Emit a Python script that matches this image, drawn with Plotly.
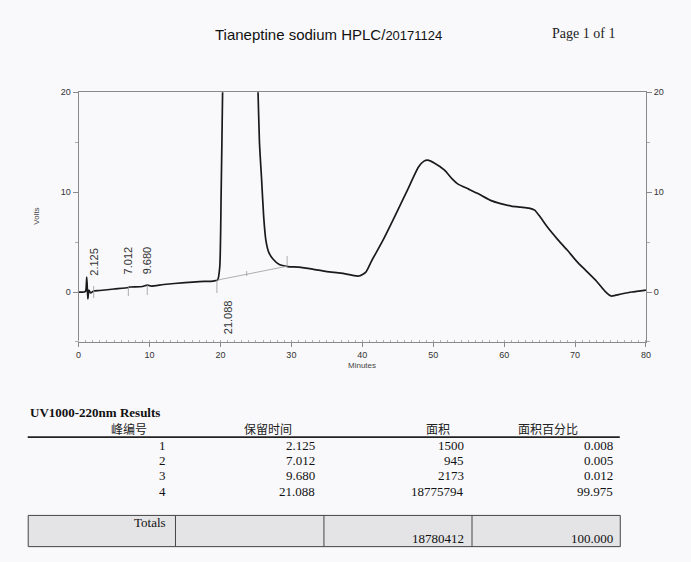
import plotly.graph_objects as go

W, H = 691, 562

# ---------------- data ----------------
t_min = [0, 0.8, 1.0, 1.15, 1.3, 1.45, 1.7, 2.0, 2.125, 3, 5, 7, 7.2, 9, 9.68, 10.2, 12, 15, 17, 19,
         19.6, 19.9, 20.1, 20.3, 20.6, 22.5, 24.5, 25.3, 25.5, 25.8, 26.1, 26.4, 26.8, 27.4, 28.3,
         29.5, 31, 33, 35, 37, 39.5, 40.5, 41.3, 43, 44.6, 46.5, 47.9, 48.7, 49.2, 50.2, 51.6, 52.7,
         53.5, 55, 56.3, 58, 59.5, 61, 62.3, 63.5, 64.3, 65, 66.1, 67.5, 68.9, 70.2, 71.6, 73, 74.2,
         75.1, 76.5, 78, 80]
volts = [0.0, 0.0, 0.1, 1.5, -0.7, 0.2, -0.1, 0.05, 0.1, 0.15, 0.3, 0.45, 0.5, 0.55, 0.7, 0.6, 0.75,
         0.95, 1.05, 1.1, 1.2, 2.5, 10, 20, 40, 80, 40, 20, 15, 11.3, 7.5, 5.2, 4.0, 3.3, 2.75,
         2.55, 2.5, 2.3, 2.05, 1.9, 1.6, 2.0, 3.1, 5.3, 7.6, 10.4, 12.5, 13.1, 13.2, 12.9, 12.2, 11.3,
         10.8, 10.3, 9.85, 9.2, 8.85, 8.6, 8.5, 8.4, 8.2, 7.6, 6.5, 5.3, 4.2, 3.1, 2.1, 1.1, 0.1,
         -0.4, -0.2, 0.0, 0.2]

# integration baseline of main peak
base_t = [19.6, 29.5]
base_v = [1.2, 2.6]

# peak labels (retention times) and label anchor heights
peak_labels = ["2.125", "7.012", "9.680", "21.088"]
peak_times = [2.125, 7.012, 9.680, 21.088]
label_y = [1.4, 1.6, 1.6, -0.6]
label_below = [False, False, False, True]

# event tick marks (time, low, high)
tick_t = [2.125, 7.012, 9.680, 19.5, 23.7, 29.4]
tick_lo = [-0.6, -0.4, -0.3, -0.1, 1.6, 2.6]
tick_hi = [0.6, 0.6, 0.7, 1.2, 2.1, 3.6]

# results table
col_headers = ["峰编号", "保留时间", "面积", "面积百分比"]
peak_no = ["1", "2", "3", "4"]
ret_time = ["2.125", "7.012", "9.680", "21.088"]
area = ["1500", "945", "2173", "18775794"]
area_pct = ["0.008", "0.005", "0.012", "99.975"]
total_area = "18780412"
total_pct = "100.000"

# ---------------- figure ----------------
def xp(px):
    return px / W

def yp(py):
    return 1 - py / H

fig = go.Figure()

fig.add_trace(go.Scatter(x=t_min, y=volts, mode="lines",
                         line=dict(color="#1a1a1a", width=1.7, shape="spline", smoothing=0.6),
                         showlegend=False, hoverinfo="skip"))
fig.add_trace(go.Scatter(x=base_t, y=base_v, mode="lines",
                         line=dict(color="#9a9a9a", width=0.8), showlegend=False, hoverinfo="skip"))
tx, ty = [], []
for t, lo, hi in zip(tick_t, tick_lo, tick_hi):
    tx += [t, t, None]
    ty += [lo, hi, None]
fig.add_trace(go.Scatter(x=tx, y=ty, mode="lines", line=dict(color="#9a9a9a", width=0.8),
                         showlegend=False, hoverinfo="skip"))
# invisible trace for the right axis
fig.add_trace(go.Scatter(x=[0], y=[0], yaxis="y2", mode="markers", marker=dict(opacity=0),
                         showlegend=False, hoverinfo="skip"))

for lab, t, y, below in zip(peak_labels, peak_times, label_y, label_below):
    fig.add_annotation(x=t, y=y, xref="x", yref="y", text=lab, showarrow=False, textangle=-90,
                       xanchor="center", yanchor="top" if below else "bottom",
                       font=dict(family="Liberation Sans, Arial", size=11, color="#333"))

axis_font = dict(family="Liberation Sans, Arial", size=9, color="#333")
xdom = [76.5 / W, 650.5 / W]
ydom = [1 - 340 / H, 1 - 88 / H]

fig.update_layout(
    width=W, height=H,
    margin=dict(l=0, r=0, t=0, b=0),
    paper_bgcolor="#f9f9fb", plot_bgcolor="#f9f9fb",
    xaxis=dict(domain=xdom, range=[0, 80], tick0=0, dtick=10, showgrid=False, zeroline=False,
               showline=True, linecolor="#8a8a8a", linewidth=1, mirror=True,
               ticks="outside", ticklen=4, tickcolor="#8a8a8a", tickfont=axis_font,
               minor=dict(dtick=1, ticks="inside", ticklen=2, tickcolor="#b0b0b0")),
    yaxis=dict(domain=ydom, range=[-5, 20], tick0=0, dtick=10, showgrid=False, zeroline=False,
               showline=True, linecolor="#8a8a8a", linewidth=1,
               ticks="outside", ticklen=5, tickcolor="#8a8a8a", tickfont=axis_font,
               minor=dict(dtick=5, ticks="outside", ticklen=3, tickcolor="#aaaaaa")),
    yaxis2=dict(overlaying="y", side="right", range=[-5, 20], tick0=0, dtick=10, showgrid=False,
                zeroline=False, showline=True, linecolor="#8a8a8a", linewidth=1,
                ticks="outside", ticklen=5, tickcolor="#8a8a8a", tickfont=axis_font,
                minor=dict(dtick=5, ticks="outside", ticklen=3, tickcolor="#aaaaaa")),
)


def note(px, py, text, size, family, xanchor="center", yanchor="middle", angle=0, color="#111"):
    fig.add_annotation(x=xp(px), y=yp(py), xref="paper", yref="paper", text=text, showarrow=False,
                       xanchor=xanchor, yanchor=yanchor, textangle=angle,
                       font=dict(family=family, size=size, color=color))


sans = "Liberation Sans, Arial"
serif = "Liberation Serif, Times New Roman"
cjk = "Noto Sans CJK SC"

# axis titles
note(33, 213, "Volts", 8, sans, angle=-90, color="#444")
note(363, 364, "Minutes", 8, sans, color="#444")

# header titles
note(212, 30, "Tianeptine sodium HPLC/<span style='font-size:13px'>20171124</span>", 15, sans,
     xanchor="left")
note(621, 29, "Page 1 of 1", 14, serif, xanchor="right", color="#222")

# results table
note(25, 411, "<b>UV1000-220nm Results</b>", 13, serif, xanchor="left")
header_cx = [127, 268, 440, 551]
for h, cx in zip(col_headers, header_cx):
    note(cx, 427, h, 12, cjk, color="#222")
fig.add_shape(type="line", xref="paper", yref="paper", x0=xp(25), x1=xp(624), y0=yp(436), y1=yp(436),
              line=dict(color="#222", width=1.6))
col_right = [167, 318, 468, 619]
row_y = [444, 459.5, 475, 490.5]
for i in range(len(peak_no)):
    for col, vals in enumerate([peak_no, ret_time, area, area_pct]):
        note(col_right[col], row_y[i], vals[i], 13, serif, xanchor="right")

# totals box
box_x = [25.5, 174.5, 324.7, 474.5, 624.5]
fig.add_shape(type="rect", xref="paper", yref="paper", x0=xp(box_x[0]), x1=xp(box_x[-1]),
              y0=yp(546.5), y1=yp(515), line=dict(color="#444", width=1), fillcolor="#e4e4e6", layer="below")
for bx in box_x[1:-1]:
    fig.add_shape(type="line", xref="paper", yref="paper", x0=xp(bx), x1=xp(bx),
                  y0=yp(546.5), y1=yp(515), line=dict(color="#444", width=1))
note(167, 522, "Totals", 13, serif, xanchor="right")
note(468, 538.5, total_area, 13, serif, xanchor="right")
note(619, 538.5, total_pct, 13, serif, xanchor="right")

fig.write_html("out.html")
